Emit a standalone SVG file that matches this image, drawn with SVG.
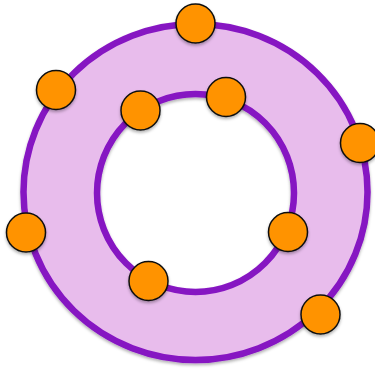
<svg xmlns="http://www.w3.org/2000/svg" width="375" height="371" viewBox="0 0 375 371">
<style>
.ring{stroke:#8614c2;stroke-width:6.5}
.node{fill:#ff9300;stroke:#111;stroke-width:1.5}
</style>
<defs>
<filter id="sh" x="-20%" y="-20%" width="140%" height="140%">
<feDropShadow dx="0" dy="2" stdDeviation="1.5" flood-color="#000" flood-opacity="0.3"/>
</filter>
</defs>
<g id="rings" filter="url(#sh)">
<path d="M23.5,192 a172,168 0 1,0 344,0 a172,168 0 1,0 -344,0 Z M97,193 a98.5,99 0 1,1 197,0 a98.5,99 0 1,1 -197,0 Z" fill="#e8bcec" fill-rule="evenodd"/>
<ellipse id="outer" class="ring" cx="195.5" cy="192" rx="172" ry="168" fill="none"/>
<ellipse id="inner" class="ring" cx="195.5" cy="193" rx="98.5" ry="99" fill="none"/>
</g>
<g id="connectors"></g>
<g filter="url(#sh)">
<g id="n1"><circle class="node" cx="195.5" cy="23.5" r="19.5"/></g>
<g id="n2"><circle class="node" cx="56" cy="90" r="19.5"/></g>
<g id="n3"><circle class="node" cx="140.5" cy="110.5" r="19.5"/></g>
<g id="n4"><circle class="node" cx="226" cy="97" r="19.5"/></g>
<g id="n5"><circle class="node" cx="360" cy="143" r="19.5"/></g>
<g id="n6"><circle class="node" cx="26" cy="232.5" r="19.5"/></g>
<g id="n7"><circle class="node" cx="288" cy="232" r="19.5"/></g>
<g id="n8"><circle class="node" cx="148.5" cy="281" r="19.5"/></g>
<g id="n9"><circle class="node" cx="320.5" cy="314.5" r="19.5"/></g>
</g>
</svg>
